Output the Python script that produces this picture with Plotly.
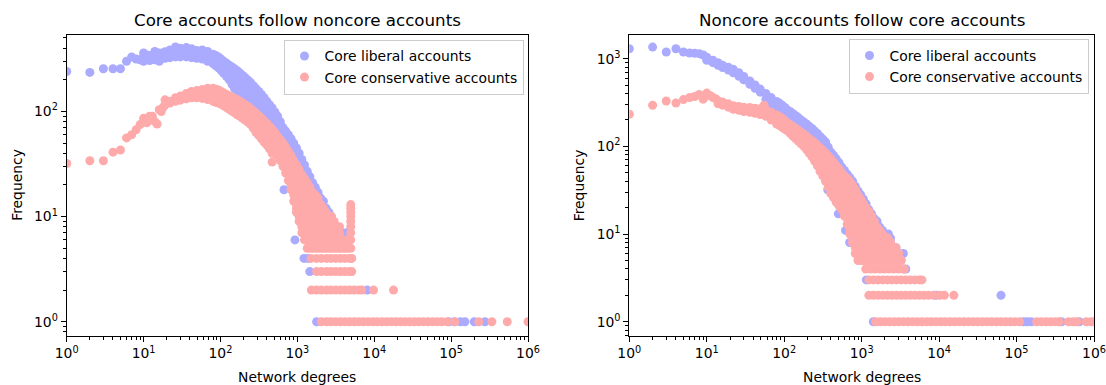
import plotly.graph_objects as go

FONT = "DejaVu Sans"
BLUE = "#aaaaff"
PINK = "#ffaaaa"

panel_titles = ["Core accounts follow noncore accounts", "Noncore accounts follow core accounts"]
series_names = ["Core liberal accounts", "Core conservative accounts"]
x_label = "Network degrees"
y_label = "Frequency"
x_tick_vals = [1, 10, 100, 1000, 10000, 100000, 1000000]
x_tick_text = ["10<sup>0</sup>", "10<sup>1</sup>", "10<sup>2</sup>", "10<sup>3</sup>",
               "10<sup>4</sup>", "10<sup>5</sup>", "10<sup>6</sup>"]
y_tick_vals = [1, 10, 100, 1000]
y_tick_text = ["10<sup>0</sup>", "10<sup>1</sup>", "10<sup>2</sup>", "10<sup>3</sup>"]

# ---------- Panel A: core accounts follow noncore accounts ----------
# columns: (degree, [frequencies]) ; rows: (frequency, [degrees])
lib_a_cols = [
    (1, [240]), (2, [235]), (3, [255]), (4, [255]), (5, [255]), (6, [300]), (7, [330]), (8, [315]), (9, [310]),
    (10, [300, 330, 360]), (11, [345]), (12, [305, 340]), (13, [320]), (14, [310, 340, 372]), (16, [300, 330, 360]),
    (19, [320, 350, 370]), (22, [325, 355, 385]), (26, [330, 370, 410]), (30, [330, 365, 400]), (36, [330, 365, 405]),
    (42, [325, 360, 395]), (49, [320, 350, 380]), (58, [315, 350, 385]), (68, [300, 335, 372]), (80, [285, 315, 350]),
    (87, [272, 302, 340]), (94, [260, 290, 330]), (102, [245, 275, 315]), (110, [230, 262, 300]),
    (120, [215, 245, 288]), (130, [200, 225, 250, 275]), (141, [182, 205, 230, 265]),
    (152, [165, 185, 208, 232, 255]), (165, [140, 160, 180, 200, 222, 244]),
    (179, [125, 140, 157, 176, 197, 215, 232]), (194, [120, 135, 152, 170, 190, 220]),
    (210, [116, 130, 146, 164, 184, 210]), (228, [111, 125, 140, 157, 176, 198]),
    (247, [106, 119, 134, 150, 168, 188]), (268, [101, 113, 127, 142, 160, 176]),
    (290, [96, 108, 121, 136, 152, 165]), (315, [91, 102, 114, 128, 143, 155]),
    (341, [86, 97, 108, 121, 135, 145]), (370, [81, 91, 102, 115, 135]),
    (400, [77, 86, 97, 109, 125]), (434, [72, 81, 91, 102, 116]), (470, [68, 76, 86, 96, 108]),
    (510, [63, 70, 79, 89, 99]), (553, [58, 65, 73, 82, 90]), (600, [54, 60, 68, 76, 80]),
    (650, [50, 56, 63, 70]), (670, [18]), (705, [46, 51, 58, 65]), (763, [42, 47, 53, 60]),
    (828, [38, 42, 48, 55]), (897, [34, 38, 43, 50]), (930, [6]), (973, [31, 35, 40, 45]),
    (1054, [28, 32, 36, 40]), (1143, [25, 29, 35]), (1238, [23, 27, 31]), (1343, [21, 24, 27]),
    (1455, [19, 22, 24]), (1578, [17, 19, 21]), (1710, [16, 18, 19]), (1855, [14, 16, 17]),
    (2009, [13, 15]), (2180, [12, 14]), (2360, [11, 12]), (2560, [11]), (2773, [10]), (3828, [7]), (4365, [7]),
]
lib_a_rows = [
    (1, [1780, 93300, 110000, 132000, 151000, 200000, 275000]),
    (2, [8100]),
    (3, [1450]),
    (4, [1220, 1380]),
]
cons_a_cols = [
    (1, [32]), (2, [34]), (3, [34]), (4, [41]), (5, [43]), (6, [56]), (7, [60]), (8, [67]), (9, [75]), (10, [86]),
    (11, [78]), (12, [90]), (13, [90]), (14, [80]), (15, [76]), (16, [104]), (17, [100]), (18, [110]),
    (19, [115, 129]), (22, [120, 125]), (26, [125, 135]), (30, [128, 140]), (36, [132, 148]), (42, [135, 155]),
    (49, [135, 148, 158]), (58, [133, 148, 162]), (68, [130, 147, 166]), (80, [125, 141, 158, 166]),
    (87, [122, 138, 153, 163]), (94, [120, 135, 150, 160]), (102, [117, 131, 146, 155]),
    (110, [113, 127, 142, 150]), (120, [109, 122, 136, 145]), (130, [105, 118, 132, 140]),
    (141, [101, 113, 126, 137]), (152, [97, 109, 122, 133]), (165, [93, 105, 117, 129]),
    (179, [90, 101, 113, 125]), (194, [86, 97, 108, 120]), (210, [83, 93, 104, 116]),
    (228, [79, 88, 99, 111]), (247, [75, 84, 94, 106]), (268, [69, 77, 86, 95, 101]),
    (290, [63, 71, 80, 89, 96]), (315, [59, 66, 74, 83, 91]), (341, [55, 62, 69, 77, 86]),
    (370, [51, 57, 64, 72, 81]), (400, [48, 54, 60, 68, 77]), (434, [44, 49, 55, 62, 72]),
    (470, [33, 40, 45, 50, 56, 62, 68]), (510, [40, 45, 50, 56, 63]), (553, [38, 43, 48, 53, 58]),
    (600, [34, 38, 43, 48, 54]), (650, [30, 34, 38, 43, 48, 50]), (705, [26, 29, 33, 37, 41, 46]),
    (763, [22, 25, 28, 31, 35, 39, 42]), (828, [18, 20, 23, 26, 29, 33, 38]),
    (897, [14, 16, 18, 20, 22, 25, 28, 31, 34]), (973, [11, 12, 13, 14, 16, 18, 20, 22, 25, 28, 31]),
    (1054, [9, 10, 11, 12, 13, 14, 16, 18, 20, 22, 25, 28]),
    (1143, [7, 8, 9, 10, 11, 12, 13, 14, 16, 18, 20, 22, 25]),
    (1238, [6, 7, 8, 9, 10, 11, 12, 13, 14, 16, 18, 20, 23]),
    (1343, [5, 6, 7, 8, 9, 10, 11, 12, 13, 14, 16, 18, 21]),
    (1455, [5, 6, 7, 8, 9, 10, 11, 12, 13, 14, 16, 19]), (1578, [5, 6, 7, 8, 9, 10, 11, 12, 13, 15, 17]),
    (1710, [5, 6, 7, 8, 9, 10, 11, 12, 14, 16]), (1855, [5, 6, 7, 8, 9, 10, 11, 12, 13, 15]),
    (2009, [5, 6, 7, 8, 9, 10, 11, 13]), (2180, [5, 6, 7, 8, 9, 10, 11, 12]), (2360, [5, 6, 7, 8, 9, 10, 11]),
    (2560, [5, 6, 7, 8, 9, 10]), (2773, [5, 6, 7, 8, 9, 10]), (3010, [5, 6, 7, 8, 9]), (3258, [5, 6, 7, 8]),
    (3530, [5, 6, 7, 8]), (3828, [5, 6]), (4150, [5, 6]), (4500, [5, 6]),
    (4950, [4, 5, 6, 7, 8, 9, 10, 11, 12, 13]),
]
cons_a_rows = [
    (1, [2050, 2400, 2750, 3160, 3630, 4170, 4790, 5500, 6310, 7240, 8320, 9550, 10960, 12590, 14450, 16600,
         19050, 21880, 25120, 28840, 33110, 38020, 43650, 50120, 57540, 66070, 75860, 89000, 112000, 229000,
         339000, 537000, 1000000]),
    (2, [1520, 1780, 2050, 2400, 2750, 3160, 3630, 4170, 4790, 5500, 6310, 6900, 9800, 17800]),
    (3, [1780, 2050, 2400, 2750, 3160, 3630, 4170, 4790, 5100]),
    (4, [1510, 1780, 2050, 2400, 2750, 3160, 3630, 4170, 4790, 5100]),
]

# ---------- Panel B: noncore accounts follow core accounts ----------
lib_b_cols = [
    (1, [1295]), (2, [1355]), (3, [1190]), (4, [1295]), (5, [1190]), (6, [1160]), (7, [1150]), (8, [1140]), (9, [1100]),
    (10, [960, 1040]), (12, [900, 960]), (14, [840, 900]), (16, [790, 840]), (19, [740, 800]), (22, [690, 755]),
    (26, [630, 690]), (30, [575, 625]), (36, [510, 556]), (42, [460, 500]), (49, [415, 450]),
    (58, [262, 300, 345, 400]), (68, [245, 280, 320, 360]), (80, [228, 260, 290, 325]),
    (87, [218, 245, 275, 310]), (94, [208, 237, 265, 295]), (102, [196, 222, 250, 278]),
    (110, [185, 210, 235, 260]), (120, [176, 200, 222, 248]), (130, [168, 190, 212, 235]),
    (141, [160, 180, 202, 224]), (152, [153, 174, 195, 212]), (165, [145, 165, 185, 200]),
    (179, [138, 157, 178, 190]), (194, [130, 148, 165, 180]), (210, [122, 140, 160, 170]),
    (228, [116, 132, 150, 160]), (247, [110, 126, 142, 150]), (268, [103, 118, 134, 140]),
    (290, [96, 110, 126, 130]), (315, [90, 103, 118, 121]), (341, [84, 96, 110, 112]),
    (365, [32]), (370, [78, 88, 98]), (400, [72, 80, 86]), (434, [66, 73, 79]), (470, [60, 67, 72]),
    (500, [17]), (510, [55, 62, 65]), (553, [50, 56, 58]), (600, [46, 51, 53]), (620, [11]),
    (650, [43, 48]), (700, [8]), (705, [40, 44]), (763, [36, 40]), (828, [32, 35]), (897, [28, 31]),
    (973, [25, 28]), (1054, [22, 25]), (1143, [20, 22]), (1238, [18, 19]), (1343, [16, 17]),
    (1455, [14, 15]), (1578, [13, 14]), (1710, [11, 12]), (1855, [10, 11]), (2009, [9, 10]), (2210, [10]),
    (2360, [8, 9]), (2773, [7]), (3000, [6]), (3450, [6]), (3720, [4]),
]
lib_b_rows = [
    (1, [1415, 123000, 138000, 155000, 380000, 646000]),
    (2, [9100, 63000]),
    (3, [1150]),
]
cons_b_cols = [
    (1, [232]), (2, [294]), (3, [329]), (4, [312]), (5, [341]), (6, [360]), (7, [370]), (8, [390]), (9, [345]),
    (10, [405]), (11, [380]), (12, [360]), (13, [350]),
    (14, [305, 330]), (16, [295, 320]), (19, [280, 305]), (22, [265, 290]), (26, [258, 285]), (30, [250, 280]),
    (36, [245, 277]), (42, [238, 272]), (49, [230, 268]), (55, [294]),
    (58, [220, 240, 262]), (68, [200, 222, 245]), (80, [180, 205, 228]), (87, [172, 195, 218]),
    (94, [165, 185, 208]), (102, [157, 176, 196]), (110, [150, 168, 185]), (120, [140, 158, 176]),
    (130, [130, 149, 168]), (141, [122, 140, 160]), (152, [115, 132, 153]), (165, [107, 123, 140, 145]),
    (179, [100, 115, 132, 138]), (194, [92, 105, 120, 130]), (210, [84, 96, 110, 122]),
    (228, [76, 87, 100, 113, 116]), (247, [68, 78, 90, 103, 110]), (268, [60, 69, 79, 90, 100, 103]),
    (290, [52, 60, 69, 79, 90, 96]), (315, [46, 53, 61, 70, 80, 90]), (341, [40, 46, 53, 61, 70, 80, 84]),
    (370, [34, 39, 45, 52, 60, 69, 78]), (400, [29, 33, 38, 44, 50, 57, 65, 72]),
    (434, [26, 30, 35, 40, 46, 53, 60, 66]), (470, [23, 26, 30, 35, 40, 46, 53, 60]),
    (510, [21, 24, 27, 31, 36, 41, 47, 55]), (553, [19, 21, 24, 27, 31, 36, 41, 47, 50]),
    (600, [16, 18, 21, 24, 27, 31, 36, 41, 46]), (650, [13, 15, 17, 19, 22, 25, 29, 33, 38, 43]),
    (705, [10, 11, 12, 14, 16, 18, 21, 24, 27, 31, 35, 40]),
    (763, [8, 9, 10, 11, 12, 14, 16, 18, 21, 24, 27, 31, 36]),
    (828, [6, 7, 8, 9, 10, 11, 12, 14, 16, 18, 21, 24, 28, 32]),
    (897, [5, 6, 7, 8, 9, 10, 11, 12, 14, 16, 18, 21, 24, 28]),
    (973, [5, 6, 7, 8, 9, 10, 11, 12, 13, 15, 17, 20, 22, 25]),
    (1054, [5, 6, 7, 8, 9, 10, 11, 12, 13, 15, 17, 20, 22]), (1143, [5, 6, 7, 8, 9, 10, 11, 12, 14, 16, 18, 20]),
    (1238, [5, 6, 7, 8, 9, 10, 11, 12, 14, 16, 18]), (1343, [5, 6, 7, 8, 9, 10, 11, 12, 14, 16]),
    (1455, [5, 6, 7, 8, 9, 10, 11, 12, 14]), (1578, [5, 6, 7, 8, 9, 10, 11, 12]),
    (1710, [5, 6, 7, 8, 9, 10, 11]), (1855, [5, 6, 7, 8, 9, 10]), (2009, [5, 6, 7, 8, 9]),
    (2180, [5, 6, 7, 8, 9]), (2360, [5, 6, 7, 8]), (2560, [5, 6, 7]), (2773, [5, 6, 7]), (3010, [5, 6]),
    (3258, [5]),
]
cons_b_rows = [
    (1, [1514, 1738, 1995, 2291, 2630, 3020, 3467, 3981, 4571, 5248, 6026, 6918, 7943, 9120, 10470, 12020, 13800,
         15850, 18200, 20890, 23990, 27540, 31620, 36310, 41690, 47860, 54950, 63100, 72440, 83180, 95500, 109600,
         182000, 209000, 240000, 275000, 316000, 355000, 468000, 537000, 603000, 794000, 912000, 1000000]),
    (2, [1240, 1420, 1630, 1870, 2140, 2450, 2810, 3220, 3690, 4230, 4850, 5560, 6370, 7300, 8500, 10200, 11700,
         15500]),
    (3, [1240, 1420, 1630, 1870, 2140, 2450, 2810, 3220, 3690, 4230, 4850, 5560, 6000]),
    (4, [1130, 1300, 1490, 1710, 1960, 2250, 2580, 2960, 3390, 3550]),
]


def expand(cols, rows):
    xs, ys = [], []
    for d, freqs in cols:
        for f in freqs:
            xs.append(d)
            ys.append(f)
    for f, degs in rows:
        for d in degs:
            xs.append(d)
            ys.append(f)
    return xs, ys


W, H = 1106, 385
MSIZE = 9

fig = go.Figure()
panels = [
    (lib_a_cols, lib_a_rows, cons_a_cols, cons_a_rows, "x", "y", "legend"),
    (lib_b_cols, lib_b_rows, cons_b_cols, cons_b_rows, "x2", "y2", "legend2"),
]
for lc, lr, cc, cr, xa, ya, lg in panels:
    for (cols, rows), name, color in (((lc, lr), series_names[0], BLUE), ((cc, cr), series_names[1], PINK)):
        xs, ys = expand(cols, rows)
        fig.add_trace(go.Scatter(x=xs, y=ys, mode="markers", name=name, xaxis=xa, yaxis=ya, legend=lg,
                                 marker=dict(color=color, size=MSIZE, line=dict(width=0)), hoverinfo="skip"))

minor_vals = [m * 10 ** k for k in range(-1, 7) for m in range(2, 10)]


def axis(domain, rng, tv, tt, anchor):
    return dict(type="log", domain=domain, range=rng, anchor=anchor, automargin=False,
                showline=True, mirror=True, linecolor="black", linewidth=1,
                ticks="outside", ticklen=5, tickwidth=1, tickcolor="black",
                tickmode="array", tickvals=tv, ticktext=tt,
                showgrid=False, zeroline=False,
                tickfont=dict(family=FONT, size=13.9, color="black"),
                minor=dict(ticks="outside", ticklen=3, tickwidth=0.8, tickcolor="black",
                           tickmode="array", tickvals=minor_vals, showgrid=False))


ax_l = [66.7 / W, 528.0 / W]
ax_r = [629.3 / W, 1094.0 / W]
ydom = [(H - 335.7) / H, (H - 34.7) / H]

legend_common = dict(bgcolor="rgba(255,255,255,0.8)", bordercolor="#cccccc", borderwidth=1,
                     font=dict(family=FONT, size=13.9, color="black"), xanchor="right", yanchor="top",
                     tracegroupgap=0, itemclick=False)

fig.update_layout(
    width=W, height=H, margin=dict(l=0, r=0, t=0, b=0, autoexpand=False),
    paper_bgcolor="white", plot_bgcolor="white",
    font=dict(family=FONT, color="black"),
    xaxis=axis(ax_l, [0, 6], x_tick_vals, x_tick_text, "y"),
    yaxis=axis(ydom, [-0.133, 2.730], y_tick_vals, y_tick_text, "x"),
    xaxis2=axis(ax_r, [0, 6], x_tick_vals, x_tick_text, "y2"),
    yaxis2=axis(ydom, [-0.159, 3.273], y_tick_vals, y_tick_text, "x2"),
    legend=dict(x=523.5 / W, y=(H - 39.5) / H, **legend_common),
    legend2=dict(x=1088.5 / W, y=(H - 39.0) / H, **legend_common),
    showlegend=True,
)

annots = []
for cx, title in ((sum(ax_l) / 2, panel_titles[0]), (sum(ax_r) / 2, panel_titles[1])):
    annots.append(dict(x=cx, y=(H - 20) / H, xref="paper", yref="paper", text=title, showarrow=False,
                       xanchor="center", yanchor="middle", font=dict(family=FONT, size=16.7, color="black")))
    annots.append(dict(x=cx, y=(H - 376.5) / H, xref="paper", yref="paper", text=x_label, showarrow=False,
                       xanchor="center", yanchor="middle", font=dict(family=FONT, size=13.9, color="black")))
for fx in (17.5, 579.0):
    annots.append(dict(x=fx / W, y=1 - (35 + 335.7) / 2 / H, xref="paper", yref="paper", text=y_label,
                       showarrow=False, textangle=-90, xanchor="center", yanchor="middle",
                       font=dict(family=FONT, size=13.9, color="black")))
fig.update_layout(annotations=annots)

fig.write_html("out.html")
